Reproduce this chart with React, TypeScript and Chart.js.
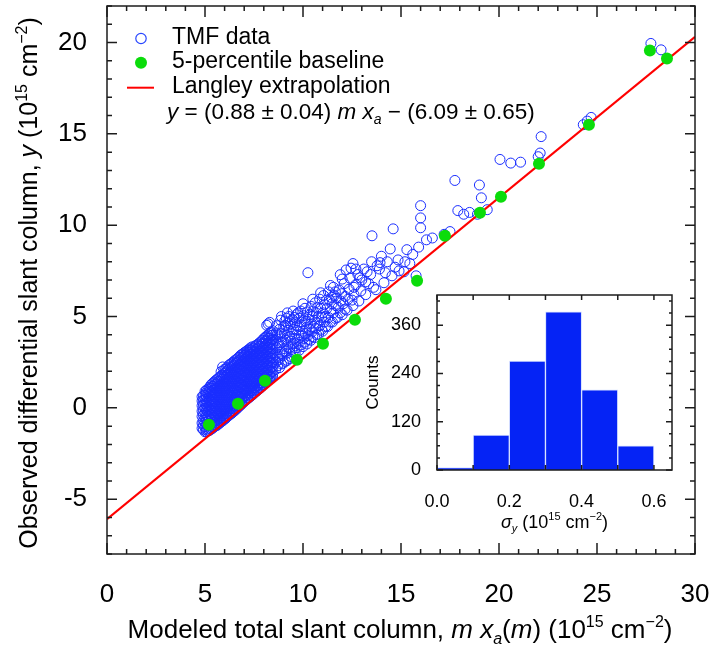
import React, { useEffect, useRef } from 'react';
import { Chart, registerables } from 'chart.js';
Chart.register(...registerables);

const FONT = '"Liberation Sans", Arial, Helvetica, sans-serif';

// ---------- main scatter: axes ----------
const xTicksMain = [0, 5, 10, 15, 20, 25, 30];
const yTicksMain = [-5, 0, 5, 10, 15, 20];

// ---------- 5-percentile baseline (green) ----------
const baselineX = [5.2, 6.68, 8.06, 9.69, 11.02, 12.65, 14.23, 15.82, 17.24, 19.03, 20.1, 22.04, 24.59, 27.7, 28.57];
const baselineY = [-0.93, 0.22, 1.48, 2.63, 3.51, 4.82, 5.97, 6.96, 9.42, 10.68, 11.56, 13.37, 15.5, 19.56, 19.12];

// ---------- Langley extrapolation line (red) ----------
const langleyX = [0, 30];
const langleyY = [-6.09, 20.31];

// ---------- TMF data (blue open circles), dense part read column by column ----------
const tmfDenseX = [4.85, 5.0, 5.15, 5.3, 5.45, 5.6, 5.75, 5.9, 6.05, 6.2, 6.35, 6.5, 6.65, 6.8, 6.95, 7.1, 7.25, 7.4, 7.55, 7.7, 7.85, 8.0, 8.15, 8.3, 8.45];
const tmfDenseY = [
  [-1.12, -0.83, -0.47, -0.18, 0.12, 0.38, 0.61],
  [-1.31, -1.04, -0.79, -0.55, -0.27, -0.02, 0.24, 0.47, 0.71, 0.9],
  [-1.27, -0.98, -0.74, -0.46, -0.21, 0.03, 0.29, 0.52, 0.78, 1.02],
  [-1.18, -0.9, -0.66, -0.41, -0.14, 0.09, 0.34, 0.6, 0.83, 1.08, 1.25],
  [-1.06, -0.81, -0.53, -0.29, -0.03, 0.22, 0.46, 0.71, 0.97, 1.19, 1.41],
  [-0.97, -0.69, -0.44, -0.18, 0.07, 0.31, 0.57, 0.82, 1.06, 1.31, 1.54],
  [-0.83, -0.57, -0.31, -0.06, 0.19, 0.44, 0.7, 0.93, 1.19, 1.44, 1.68],
  [-0.71, -0.44, -0.19, 0.06, 0.32, 0.56, 0.81, 1.07, 1.3, 1.56, 1.79, 2.24],
  [-0.58, -0.32, -0.07, 0.18, 0.44, 0.69, 0.94, 1.18, 1.43, 1.69, 1.93, 2.12],
  [-0.43, -0.17, 0.08, 0.33, 0.59, 0.84, 1.09, 1.34, 1.58, 1.83, 2.08, 2.31],
  [-0.31, -0.06, 0.21, 0.46, 0.7, 0.96, 1.21, 1.44, 1.71, 1.95, 2.19, 2.43],
  [-0.17, 0.09, 0.34, 0.58, 0.84, 1.09, 1.33, 1.59, 1.84, 2.09, 2.34, 2.57],
  [-0.02, 0.24, 0.49, 0.74, 0.98, 1.24, 1.49, 1.73, 1.99, 2.24, 2.48, 2.69],
  [0.13, 0.39, 0.63, 0.88, 1.14, 1.38, 1.64, 1.89, 2.13, 2.38, 2.63, 2.86],
  [0.29, 0.54, 0.79, 1.04, 1.28, 1.53, 1.79, 2.03, 2.28, 2.53, 2.78, 2.97],
  [0.43, 0.68, 0.94, 1.19, 1.43, 1.68, 1.93, 2.18, 2.43, 2.68, 2.92, 3.09],
  [0.56, 0.81, 1.06, 1.31, 1.56, 1.81, 2.06, 2.31, 2.56, 2.8, 3.04, 3.21],
  [0.69, 0.94, 1.19, 1.44, 1.69, 1.94, 2.19, 2.44, 2.69, 2.93, 3.17, 3.34],
  [0.84, 1.09, 1.34, 1.59, 1.84, 2.08, 2.33, 2.58, 2.83, 3.08, 3.38],
  [0.98, 1.23, 1.48, 1.73, 1.98, 2.23, 2.48, 2.73, 2.98, 3.23, 3.49],
  [1.11, 1.37, 1.62, 1.87, 2.12, 2.37, 2.62, 2.87, 3.12, 3.37, 3.61],
  [1.28, 1.53, 1.78, 2.03, 2.28, 2.53, 2.78, 3.03, 3.28, 3.53, 3.79],
  [1.44, 1.69, 1.94, 2.19, 2.44, 2.69, 2.94, 3.19, 3.44, 3.69, 3.93, 4.52],
  [1.58, 1.83, 2.08, 2.33, 2.58, 2.83, 3.08, 3.33, 3.58, 3.83, 4.07, 4.68],
  [1.74, 1.99, 2.24, 2.49, 2.74, 2.99, 3.24, 3.49, 3.74, 3.98, 4.22],
];
// second, interleaved set of dense columns
const tmfDenseX2 = [4.92, 5.07, 5.22, 5.37, 5.52, 5.67, 5.82, 5.97, 6.12, 6.27, 6.42, 6.57, 6.72, 6.87, 7.02, 7.17, 7.32, 7.47, 7.62, 7.77, 7.92, 8.07, 8.22, 8.37];
const tmfDenseY2 = [
  [-1.2, -0.95, -0.68, -0.4, -0.13, 0.15, 0.42, 0.66],
  [-1.3, -1.17, -0.92, -0.66, -0.41, -0.15, 0.11, 0.36, 0.6, 0.83, 0.97],
  [-1.24, -1.11, -0.86, -0.6, -0.33, -0.08, 0.17, 0.41, 0.66, 0.9, 1.12],
  [-1.13, -1.03, -0.78, -0.53, -0.27, -0.02, 0.22, 0.47, 0.71, 0.96, 1.18, 1.33],
  [-1.0, -0.93, -0.67, -0.41, -0.16, 0.1, 0.34, 0.58, 0.84, 1.08, 1.3, 1.48],
  [-0.9, -0.82, -0.57, -0.31, -0.05, 0.19, 0.44, 0.69, 0.94, 1.18, 1.43, 1.62],
  [-0.77, -0.7, -0.44, -0.18, 0.07, 0.31, 0.57, 0.82, 1.06, 1.31, 1.56, 1.76, 1.98],
  [-0.64, -0.57, -0.32, -0.06, 0.19, 0.44, 0.69, 0.94, 1.19, 1.43, 1.68, 1.88, 2.1],
  [-0.5, -0.44, -0.19, 0.06, 0.31, 0.56, 0.81, 1.06, 1.31, 1.56, 1.81, 2.02, 2.2],
  [-0.37, -0.3, -0.05, 0.2, 0.45, 0.71, 0.96, 1.2, 1.46, 1.71, 1.96, 2.2, 2.38],
  [-0.24, -0.18, 0.08, 0.33, 0.58, 0.83, 1.08, 1.33, 1.58, 1.83, 2.07, 2.31, 2.5],
  [-0.1, -0.04, 0.21, 0.46, 0.71, 0.96, 1.21, 1.46, 1.71, 1.96, 2.21, 2.45, 2.63],
  [0.06, 0.11, 0.36, 0.61, 0.86, 1.11, 1.36, 1.61, 1.86, 2.11, 2.36, 2.58, 2.77],
  [0.21, 0.26, 0.51, 0.76, 1.01, 1.26, 1.51, 1.76, 2.01, 2.26, 2.51, 2.74, 2.92],
  [0.36, 0.41, 0.66, 0.91, 1.16, 1.41, 1.66, 1.91, 2.16, 2.41, 2.66, 2.88, 3.04],
  [0.5, 0.56, 0.81, 1.06, 1.31, 1.56, 1.81, 2.06, 2.31, 2.56, 2.81, 3.02, 3.15],
  [0.63, 0.69, 0.94, 1.19, 1.44, 1.69, 1.94, 2.19, 2.44, 2.69, 2.93, 3.13, 3.28],
  [0.77, 0.83, 1.07, 1.32, 1.57, 1.82, 2.07, 2.32, 2.57, 2.82, 3.06, 3.27],
  [0.91, 0.97, 1.21, 1.46, 1.71, 1.96, 2.21, 2.46, 2.71, 2.96, 3.2, 3.43],
  [1.04, 1.11, 1.36, 1.61, 1.86, 2.11, 2.36, 2.61, 2.86, 3.11, 3.35, 3.55],
  [1.19, 1.26, 1.5, 1.75, 2.0, 2.25, 2.5, 2.75, 3.0, 3.25, 3.49, 3.7],
  [1.36, 1.41, 1.66, 1.91, 2.16, 2.41, 2.66, 2.91, 3.16, 3.41, 3.66, 3.86],
  [1.51, 1.56, 1.81, 2.06, 2.31, 2.56, 2.81, 3.06, 3.31, 3.56, 3.81, 4.0, 4.6],
  [1.66, 1.71, 1.96, 2.21, 2.46, 2.71, 2.96, 3.21, 3.46, 3.71, 3.96, 4.15],
];
// sparser TMF points, individual [x, y]
const tmfSparse: [number, number][] = [
  [8.6, 2.1], [8.62, 2.5], [8.58, 2.9], [8.65, 3.3], [8.6, 3.7], [8.63, 4.1], [8.66, 4.5],
  [8.7, 2.3], [8.7, 2.75], [8.72, 3.55], [8.7, 4.0], [8.9, 2.4], [8.92, 2.95], [8.92, 3.6], [8.9, 4.1],
  [8.8, 2.2], [8.78, 2.65], [8.82, 3.05], [8.79, 3.45], [8.84, 3.9], [8.8, 4.3], [8.86, 4.8],
  [9.0, 2.45], [8.98, 2.85], [9.03, 3.25], [9.0, 3.65], [9.05, 4.05], [9.02, 4.45], [9.07, 4.75],
  [9.1, 2.55], [9.12, 3.1], [9.12, 3.7], [9.3, 2.7], [9.32, 3.3], [9.32, 3.9],
  [9.2, 2.6], [9.18, 3.0], [9.23, 3.45], [9.2, 3.85], [9.25, 4.25], [9.22, 4.65], [9.28, 5.0],
  [9.4, 2.8], [9.42, 3.2], [9.38, 3.65], [9.45, 4.05], [9.4, 4.45], [9.46, 4.85],
  [9.6, 3.0], [9.62, 3.4], [9.58, 3.8], [9.65, 4.25], [9.6, 4.65], [9.67, 5.1],
  [9.8, 3.15], [9.83, 3.6], [9.79, 4.0], [9.85, 4.45], [9.8, 4.9], [9.88, 5.3],
  [10.0, 3.35], [10.04, 3.8], [9.99, 4.2], [10.06, 4.6], [10.02, 5.05], [10.1, 5.45],
  [10.2, 3.5], [10.25, 3.95], [10.18, 4.4], [10.27, 4.85], [10.22, 5.25], [10.25, 7.4],
  [10.4, 3.7], [10.45, 4.15], [10.38, 4.6], [10.48, 5.0], [10.42, 5.55],
  [10.6, 3.85], [10.65, 4.35], [10.58, 4.8], [10.68, 5.2], [10.62, 5.75],
  [10.8, 4.05], [10.85, 4.5], [10.78, 5.0], [10.9, 5.45], [10.85, 5.95],
  [11.0, 4.2], [11.08, 4.7], [11.02, 5.2], [11.1, 5.65], [11.05, 6.15],
  [11.25, 4.45], [11.3, 4.95], [11.22, 5.45], [11.35, 5.9], [11.3, 6.35],
  [11.5, 4.7], [11.55, 5.2], [11.48, 5.7], [11.6, 6.15], [11.55, 6.6],
  [11.75, 4.95], [11.8, 5.5], [11.72, 6.0], [11.85, 6.45], [11.9, 7.29],
  [12.0, 5.1], [12.05, 5.7], [11.98, 6.25], [12.1, 6.8], [12.2, 7.55],
  [12.25, 5.35], [12.3, 5.95], [12.35, 6.5], [12.4, 7.1], [12.55, 7.9], [12.45, 7.65],
  [12.55, 5.6], [12.6, 6.2], [12.7, 6.75], [12.8, 7.3], [12.9, 7.12],
  [12.85, 5.85], [12.95, 6.4], [13.0, 7.0], [13.1, 7.6], [13.2, 6.9], [13.27, 7.45],
  [13.2, 6.2], [13.35, 6.8], [13.45, 7.3], [13.5, 8.0], [13.52, 9.42], [13.6, 6.6],
  [13.72, 6.47], [13.78, 7.78], [13.9, 7.6], [13.93, 7.95], [14.0, 8.3], [14.13, 6.85],
  [14.2, 7.4], [14.3, 8.0], [14.45, 8.7], [14.6, 9.8], [14.54, 7.23], [14.7, 7.7],
  [14.85, 8.1], [14.9, 7.5], [15.15, 7.45], [15.2, 8.0], [15.3, 8.66], [15.45, 7.9],
  [15.6, 8.4], [15.77, 7.23], [15.9, 8.8], [16.0, 9.86], [16.0, 10.4], [16.0, 11.07],
  [16.3, 9.2], [16.6, 9.3], [17.2, 9.5], [17.5, 9.65], [17.75, 12.45], [17.9, 10.8],
  [18.2, 10.6], [18.5, 10.7], [18.9, 10.6], [19.0, 12.2], [19.1, 11.5], [19.4, 10.85],
  [20.05, 13.6], [20.6, 13.4], [21.1, 13.45], [22.0, 13.75], [22.1, 13.95], [22.15, 14.85],
  [24.3, 15.5], [24.5, 15.7], [24.7, 15.9], [27.75, 19.95], [28.27, 19.6],
  [9.1, 4.5], [9.15, 4.9], [9.35, 4.6], [9.5, 3.05], [9.5, 3.5], [9.52, 4.3], [9.55, 4.95],
  [9.7, 3.3], [9.72, 3.75], [9.7, 4.5], [9.75, 5.2], [9.9, 3.45], [9.92, 3.95], [9.95, 4.7],
  [10.1, 3.6], [10.12, 4.05], [10.15, 4.75], [10.3, 3.75], [10.32, 4.3], [10.35, 5.1],
  [10.5, 3.9], [10.55, 4.45], [10.52, 5.3], [10.7, 4.0], [10.72, 4.65], [10.75, 5.5],
  [10.95, 4.3], [10.95, 4.95], [11.15, 4.45], [11.15, 5.0], [11.2, 5.9], [11.4, 4.7],
  [11.42, 5.3], [11.45, 6.05], [11.65, 4.9], [11.68, 5.6], [11.65, 6.35], [11.9, 5.2],
  [11.92, 5.85], [12.15, 5.4], [12.15, 6.1], [12.5, 5.9], [12.6, 6.6], [12.7, 7.6],
  [12.0, 7.05], [11.4, 6.7], [10.9, 6.3], [10.5, 5.95], [10.0, 5.7], [9.5, 5.3], [9.2, 5.2], [8.9, 5.0],
];

// ---------- inset histogram ----------
const sigmaBins = [0.05, 0.15, 0.25, 0.35, 0.45, 0.55];
const sigmaCounts = [6, 87, 271, 393, 199, 60];
const insetXTicks = [0, 0.2, 0.4, 0.6];
const insetYTicks = [0, 120, 240, 360];

type Seg = { t: string; i?: boolean; sup?: boolean; sub?: boolean };

function drawRich(ctx: CanvasRenderingContext2D, segs: Seg[], x: number, y: number, size: number, align: 'left' | 'center') {
  const fontFor = (s: Seg) => `${s.i ? 'italic ' : ''}${s.sup || s.sub ? Math.round(size * 0.62) : size}px ${FONT}`;
  let total = 0;
  const widths = segs.map((s) => {
    ctx.font = fontFor(s);
    const w = ctx.measureText(s.t).width;
    total += w;
    return w;
  });
  let cx = align === 'center' ? x - total / 2 : x;
  ctx.textAlign = 'left';
  ctx.textBaseline = 'alphabetic';
  segs.forEach((s, k) => {
    ctx.font = fontFor(s);
    const dy = s.sup ? -size * 0.42 : s.sub ? size * 0.22 : 0;
    ctx.fillText(s.t, cx, y + dy);
    cx += widths[k];
  });
}

function range(a: number, b: number, step: number) {
  const out: number[] = [];
  for (let v = a; v <= b + 1e-9; v += step) out.push(Math.round(v * 1000) / 1000);
  return out;
}

function frameTicks(cfg: {
  xMajor: number[]; xMinor: number[]; yMajor: number[]; yMinor: number[];
  xMajLen: number; yMajLen: number; minLen: number; lw: number;
}) {
  return {
    id: 'frameTicks',
    afterDatasetsDraw(chart: any) {
      const { ctx, chartArea, scales } = chart;
      const { left, right, top, bottom } = chartArea;
      const sx = scales.x, sy = scales.y;
      ctx.save();
      ctx.strokeStyle = '#1c1c1c';
      ctx.lineWidth = cfg.lw;
      ctx.beginPath();
      const seg = (x1: number, y1: number, x2: number, y2: number) => { ctx.moveTo(x1, y1); ctx.lineTo(x2, y2); };
      cfg.xMinor.forEach((v) => { const p = sx.getPixelForValue(v); seg(p, bottom, p, bottom - cfg.minLen); seg(p, top, p, top + cfg.minLen); });
      cfg.xMajor.forEach((v) => { const p = sx.getPixelForValue(v); seg(p, bottom, p, bottom - cfg.xMajLen); seg(p, top, p, top + cfg.xMajLen); });
      cfg.yMinor.forEach((v) => { const p = sy.getPixelForValue(v); seg(left, p, left + cfg.minLen, p); seg(right, p, right - cfg.minLen, p); });
      cfg.yMajor.forEach((v) => { const p = sy.getPixelForValue(v); seg(left, p, left + cfg.yMajLen, p); seg(right, p, right - cfg.yMajLen, p); });
      ctx.stroke();
      ctx.strokeRect(left, top, right - left, bottom - top);
      ctx.restore();
    },
  };
}

const mainText = {
  id: 'mainText',
  afterDraw(chart: any) {
    const ctx: CanvasRenderingContext2D = chart.ctx;
    const { left, right, top, bottom } = chart.chartArea;
    ctx.save();
    ctx.fillStyle = '#000';
    // x title
    drawRich(ctx, [
      { t: 'Modeled total slant column, ' }, { t: 'm', i: true }, { t: ' ' }, { t: 'x', i: true }, { t: 'a', i: true, sub: true },
      { t: '(' }, { t: 'm', i: true }, { t: ') (10' }, { t: '15', sup: true }, { t: ' cm' }, { t: '\u22122', sup: true }, { t: ')' },
    ], (left + right) / 2 - 1, 638, 26, 'center');
    // y title
    ctx.save();
    ctx.translate(37, (top + bottom) / 2 + 3);
    ctx.rotate(-Math.PI / 2);
    drawRich(ctx, [
      { t: 'Observed differential slant column, ' }, { t: 'y', i: true }, { t: ' (10' }, { t: '15', sup: true },
      { t: ' cm' }, { t: '\u22122', sup: true }, { t: ')' },
    ], 0, 0, 25, 'center');
    ctx.restore();
    // legend
    ctx.lineWidth = 1.2;
    ctx.strokeStyle = 'rgb(40,70,255)';
    ctx.beginPath();
    ctx.arc(141, 38.5, 5.2, 0, Math.PI * 2);
    ctx.stroke();
    ctx.fillStyle = '#0bdc0b';
    ctx.beginPath();
    ctx.arc(141, 62.7, 6, 0, Math.PI * 2);
    ctx.fill();
    ctx.strokeStyle = '#ff0000';
    ctx.lineWidth = 2;
    ctx.beginPath();
    ctx.moveTo(127, 87.7);
    ctx.lineTo(154, 87.7);
    ctx.stroke();
    ctx.fillStyle = '#000';
    drawRich(ctx, [{ t: 'TMF data' }], 172, 44, 23, 'left');
    drawRich(ctx, [{ t: '5-percentile baseline' }], 172, 68.3, 23, 'left');
    drawRich(ctx, [{ t: 'Langley extrapolation' }], 172, 92.5, 23, 'left');
    drawRich(ctx, [
      { t: 'y', i: true }, { t: ' = (0.88 \u00b1 0.04) ' }, { t: 'm', i: true }, { t: ' ' }, { t: 'x', i: true }, { t: 'a', i: true, sub: true },
      { t: ' \u2212 (6.09 \u00b1 0.65)' },
    ], 167, 119, 22.5, 'left');
    ctx.restore();
  },
};

const insetText = {
  id: 'insetText',
  afterDraw(chart: any) {
    const ctx: CanvasRenderingContext2D = chart.ctx;
    const { left, right, top, bottom } = chart.chartArea;
    ctx.save();
    ctx.fillStyle = '#000';
    drawRich(ctx, [
      { t: '\u03c3', i: true }, { t: 'y', i: true, sub: true }, { t: ' (10' }, { t: '15', sup: true }, { t: ' cm' }, { t: '\u22122', sup: true }, { t: ')' },
    ], (left + right) / 2, 248, 18, 'center');
    ctx.save();
    ctx.translate(38, (top + bottom) / 2);
    ctx.rotate(-Math.PI / 2);
    drawRich(ctx, [{ t: 'Counts' }], 0, 0, 17, 'center');
    ctx.restore();
    ctx.restore();
  },
};

export default function App() {
  const mainRef = useRef<HTMLCanvasElement>(null);
  const insetRef = useRef<HTMLCanvasElement>(null);

  useEffect(() => {
    const tmfPoints = [
      ...tmfDenseX.flatMap((x, i) => tmfDenseY[i].map((y) => ({ x, y }))),
      ...tmfDenseX2.flatMap((x, i) => tmfDenseY2[i].map((y) => ({ x, y }))),
      ...tmfSparse.map(([x, y]) => ({ x, y })),
    ];
    const baseline = baselineX.map((x, i) => ({ x, y: baselineY[i] }));
    const langley = langleyX.map((x, i) => ({ x, y: langleyY[i] }));

    const main = new Chart(mainRef.current as HTMLCanvasElement, {
      type: 'scatter',
      data: {
        datasets: [
          { label: '5-percentile baseline', data: baseline, pointRadius: 6, pointBackgroundColor: '#0bdc0b', pointBorderWidth: 0, backgroundColor: '#0bdc0b', order: 0 } as any,
          { label: 'Langley extrapolation', data: langley, showLine: true, borderColor: '#ff0000', borderWidth: 2, pointRadius: 0, order: 1 } as any,
          { label: 'TMF data', data: tmfPoints, pointRadius: 5, pointBorderWidth: 1, pointBorderColor: 'rgb(25,45,255)', pointBackgroundColor: 'rgba(0,0,0,0)', borderColor: 'rgb(25,45,255)', backgroundColor: 'rgba(0,0,0,0)', order: 2 } as any,
        ],
      },
      options: {
        animation: false,
        responsive: false,
        devicePixelRatio: 1,
        events: [],
        layout: { padding: { left: 0, top: 6, right: 15, bottom: 0 } },
        plugins: { legend: { display: false }, tooltip: { enabled: false } },
        scales: {
          x: {
            type: 'linear', min: 0, max: 30,
            grid: { display: false }, border: { display: false },
            ticks: { font: { family: FONT, size: 26 }, color: '#000', padding: 17, maxRotation: 0 },
            afterBuildTicks: (s: any) => { s.ticks = xTicksMain.map((v) => ({ value: v })); },
            afterFit: (s: any) => { s.height = 92; s.paddingLeft = 0; s.paddingRight = 0; },
          },
          y: {
            type: 'linear', min: -8, max: 22,
            grid: { display: false }, border: { display: false },
            ticks: { font: { family: FONT, size: 26 }, color: '#000', padding: 12 },
            afterBuildTicks: (s: any) => { s.ticks = yTicksMain.map((v) => ({ value: v })); },
            afterFit: (s: any) => { s.width = 107; s.paddingTop = 0; s.paddingBottom = 0; },
          },
        },
      } as any,
      plugins: [
        frameTicks({
          xMajor: xTicksMain, xMinor: range(0, 30, 1), yMajor: yTicksMain, yMinor: range(-8, 22, 1),
          xMajLen: 11, yMajLen: 10, minLen: 5, lw: 1.5,
        }),
        mainText,
      ] as any,
    });

    const inset = new Chart(insetRef.current as HTMLCanvasElement, {
      type: 'bar',
      data: {
        datasets: [{
          label: 'Counts',
          data: sigmaBins.map((x, i) => ({ x, y: sigmaCounts[i] })),
          backgroundColor: 'rgb(5,35,245)',
          borderColor: 'rgba(215,225,255,1)',
          borderWidth: 1,
          barPercentage: 1,
          categoryPercentage: 1,
        }],
      },
      options: {
        animation: false,
        responsive: false,
        devicePixelRatio: 1,
        events: [],
        layout: { padding: { left: 0, top: 15, right: 18, bottom: 0 } },
        plugins: { legend: { display: false }, tooltip: { enabled: false } },
        scales: {
          x: {
            type: 'linear', min: 0, max: 0.65, offset: false,
            grid: { display: false }, border: { display: false },
            ticks: { font: { family: FONT, size: 18 }, color: '#000', padding: 13, maxRotation: 0, callback: (v: any) => Number(v).toFixed(1) },
            afterBuildTicks: (s: any) => { s.ticks = insetXTicks.map((v) => ({ value: v })); },
            afterFit: (s: any) => { s.height = 70; s.paddingLeft = 0; s.paddingRight = 0; },
          },
          y: {
            type: 'linear', min: 0, max: 435,
            grid: { display: false }, border: { display: false },
            ticks: { font: { family: FONT, size: 18 }, color: '#000', padding: 8 },
            afterBuildTicks: (s: any) => { s.ticks = insetYTicks.map((v) => ({ value: v })); },
            afterFit: (s: any) => { s.width = 97; s.paddingTop = 0; s.paddingBottom = 0; },
          },
        },
      } as any,
      plugins: [
        frameTicks({
          xMajor: range(0, 0.6, 0.1), xMinor: [], yMajor: insetYTicks, yMinor: range(0, 420, 30),
          xMajLen: 5, yMajLen: 6, minLen: 3, lw: 1.5,
        }),
        insetText,
      ] as any,
    });

    return () => {
      main.destroy();
      inset.destroy();
    };
  }, []);

  return (
    <div style={{ position: 'absolute', left: 0, top: 0, width: 710, height: 646, background: '#fff' }}>
      <canvas ref={mainRef} width={710} height={646} style={{ position: 'absolute', left: 0, top: 0 }} />
      <canvas ref={insetRef} width={350} height={260} style={{ position: 'absolute', left: 340, top: 280 }} />
    </div>
  );
}
